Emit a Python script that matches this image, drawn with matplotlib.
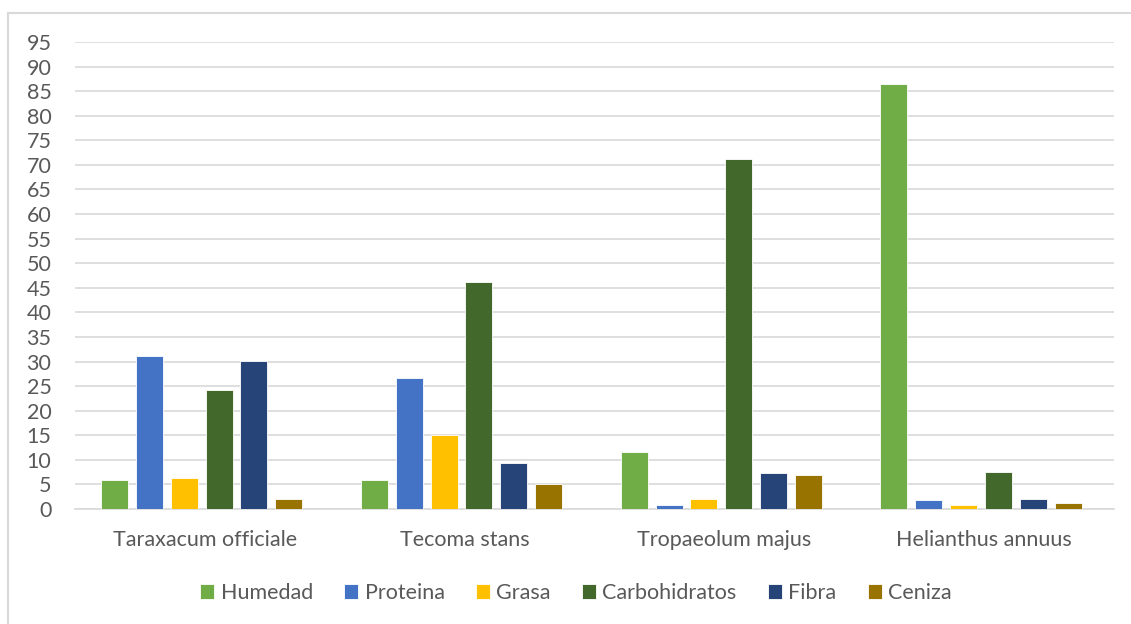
import matplotlib
matplotlib.use("Agg")
import matplotlib.pyplot as plt
import numpy as np

categories = ["Taraxacum officiale", "Tecoma stans", "Tropaeolum majus", "Helianthus annuus"]
series_names = ["Humedad", "Proteina", "Grasa", "Carbohidratos", "Fibra", "Ceniza"]
humedad = [5.8, 5.8, 11.5, 86.4]
proteina = [31.2, 26.6, 0.85, 1.8]
grasa = [6.3, 15.0, 2.0, 0.8]
carbohidratos = [24.3, 46.2, 71.2, 7.5]
fibra = [30.1, 9.3, 7.3, 2.0]
ceniza = [2.0, 5.0, 7.0, 1.2]
colors = ["#70AD47", "#4472C4", "#FFC000", "#43682B", "#264478", "#997300"]
yticks = list(range(0, 100, 5))

series = [humedad, proteina, grasa, carbohidratos, fibra, ceniza]

plt.rcParams['font.family'] = ['Lato', 'DejaVu Sans']
text_color = "#595959"
fs = 15.5

fig = plt.figure(figsize=(11.31, 6.24), dpi=100)
W, H = 1131, 624
ax = fig.add_axes([75 / W, 1 - 509 / H, (1114 - 75) / W, (509 - 42) / H])

x = np.arange(len(categories))
pitch = 0.134
width = 0.104
shift = -0.012
for i, (name, vals, c) in enumerate(zip(series_names, series, colors)):
    offs = (i - 2.5) * pitch + shift
    ax.bar(x + offs, vals, width=width, color=c, label=name,
           edgecolor="white", linewidth=0.6, zorder=3)

ax.set_xlim(-0.5, 3.5)
ax.set_ylim(0, 95)
ax.set_yticks(yticks)
ax.set_yticklabels([str(t) for t in yticks], fontsize=fs, color=text_color)
ax.set_xticks(x)
ax.set_xticklabels(categories, fontsize=fs, color=text_color)
ax.tick_params(axis='both', length=0)
ax.tick_params(axis='y', pad=17)
ax.tick_params(axis='x', pad=15)
ax.grid(axis='y', color="#d9d9d9", linewidth=1.2, zorder=0)
for s in ["top", "right", "left"]:
    ax.spines[s].set_visible(False)
ax.spines["bottom"].set_color("#d9d9d9")
ax.spines["bottom"].set_linewidth(1.2)
ax.set_axisbelow(True)

leg = fig.legend(loc="center", bbox_to_anchor=(576 / W, 1 - 593 / H), ncol=6,
                 frameon=False, fontsize=fs, handlelength=0.65, handleheight=0.65,
                 handletextpad=0.3, columnspacing=1.45)
for t in leg.get_texts():
    t.set_color(text_color)

# outer chart border (top and left visible)
fig.add_artist(plt.Line2D([8 / W, 8 / W], [0, 1 - 13 / H], transform=fig.transFigure,
                          color="#d9d9d9", linewidth=1.5))
fig.add_artist(plt.Line2D([8 / W, 1], [1 - 13 / H, 1 - 13 / H], transform=fig.transFigure,
                          color="#d9d9d9", linewidth=1.5))

fig.savefig("out.png", dpi=100)
